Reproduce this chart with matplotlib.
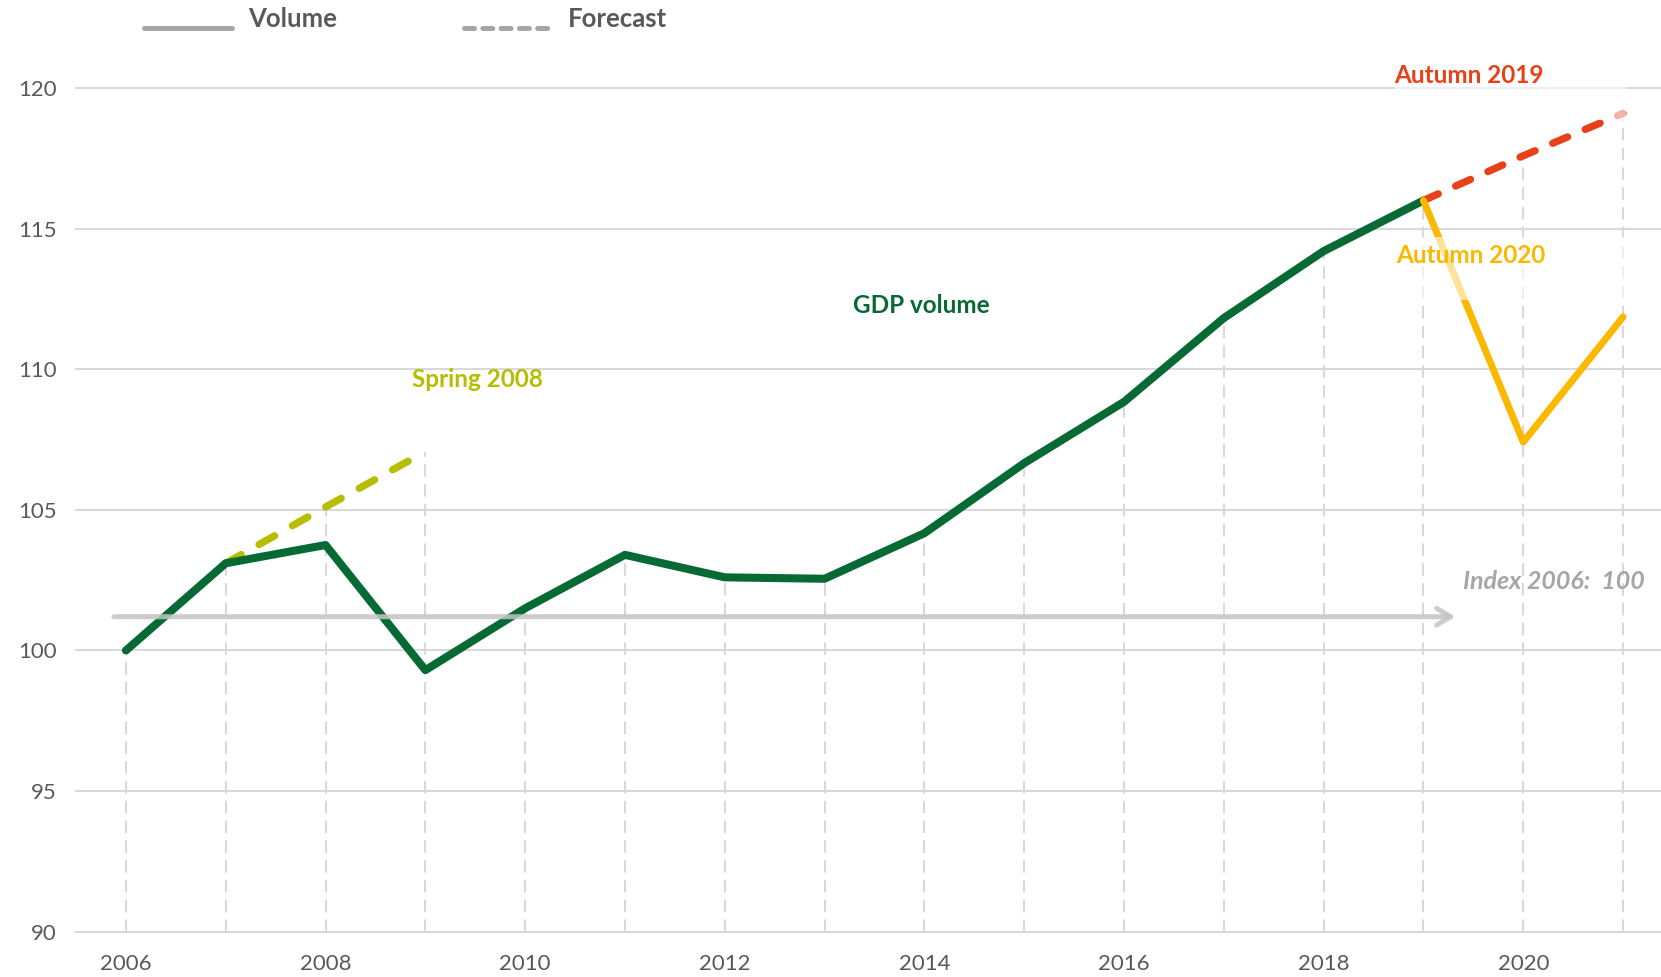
import numpy as np
import matplotlib
matplotlib.use("Agg")
import matplotlib.pyplot as plt
from matplotlib.lines import Line2D
from matplotlib.legend_handler import HandlerLine2D
from matplotlib.patches import Rectangle

plt.rcParams['font.family'] = ['Liberation Sans Narrow', 'Lato', 'DejaVu Sans']

# GDP volume index (2006 = 100)
years = list(range(2006, 2020))
gdp_volume = [100.0, 103.1, 103.75, 99.3, 101.5, 103.4, 102.6, 102.55,
              104.17, 106.66, 108.84, 111.82, 114.2, 116.0]

# Forecast vintages
spring_2008_years = [2007, 2008, 2009]
spring_2008 = [103.1, 105.1, 107.07]
autumn_2019_years = [2019, 2020, 2021]
autumn_2019 = [116.0, 117.59, 119.1]
autumn_2020_years = [2019, 2020, 2021]
autumn_2020 = [116.0, 107.41, 111.86]

x_ticks = [2006, 2008, 2010, 2012, 2014, 2016, 2018, 2020]
y_ticks = [90, 95, 100, 105, 110, 115, 120]

# Index reference arrow
index_arrow_level = 101.2
index_arrow_from = 2005.88
index_arrow_to = 2019.32

GREEN = '#076a34'
OLIVE = '#b7bd00'
RED = '#e8411a'
AMBER = '#fbb800'
GRID = '#d9d9d9'
TEXT = '#595959'
LEGEND_GREY = '#a6a6a6'

LABEL_SIZE = 17.5
TICK_SIZE = 16

fig = plt.figure(figsize=(16.61, 9.77), dpi=100)
W, H = 1661, 977
ax = fig.add_axes([76 / W, 1 - 931.7 / H, 1 - 76 / W, (931.7 - 88) / H])
ax.set_xlim(2005.5, 2021.38)
ax.set_ylim(90, 120)

for s in ax.spines.values():
    s.set_visible(False)

# horizontal grid
for y in y_ticks:
    ax.axhline(y, color=GRID, lw=1.5, zorder=0.5, clip_on=False)

# dashed drop lines from the highest value of each year
top_by_year = {}
for xs, ys in [(years, gdp_volume), (spring_2008_years, spring_2008),
               (autumn_2019_years, autumn_2019), (autumn_2020_years, autumn_2020)]:
    for x, y in zip(xs, ys):
        top_by_year[x] = max(top_by_year.get(x, -np.inf), y)
drop_x = sorted(top_by_year)
ax.vlines(drop_x, 90, [top_by_year[x] for x in drop_x], colors=GRID,
          lw=1.5, linestyles=(0, (6, 3.5)), zorder=0.6)

# series
ax.plot(years, gdp_volume, color=GREEN, lw=5.8, solid_capstyle='round',
        solid_joinstyle='round', zorder=3)
ax.plot(spring_2008_years, spring_2008, color=OLIVE, lw=5.3,
        ls=(0, (2.4, 2.8)), dash_capstyle='round', zorder=2.5)
ax.plot(autumn_2019_years, autumn_2019, color=RED, lw=5.3,
        ls=(0, (2.2, 2.6)), dash_capstyle='round', zorder=3.2)
ax.plot(autumn_2020_years, autumn_2020, color=AMBER, lw=5.0,
        solid_capstyle='round', solid_joinstyle='round', zorder=3.4)

# index arrow
ax.annotate('', xy=(index_arrow_to, index_arrow_level),
            xytext=(index_arrow_from, index_arrow_level),
            arrowprops=dict(arrowstyle='->,head_length=1.0,head_width=0.6',
                            color='#c4c4c4', lw=3.6, alpha=0.85,
                            shrinkA=0, shrinkB=0),
            zorder=4)
ax.text(2021.22, 102.47, 'Index 2006:  100', ha='right', va='center',
        fontsize=18, fontweight='bold', fontstyle='italic', color=LEGEND_GREY)

# series labels
ax.text(2009.52, 109.62, 'Spring 2008', ha='center', va='center',
        fontsize=LABEL_SIZE, fontweight='bold', color=OLIVE)
ax.text(2013.97, 112.28, 'GDP volume', ha='center', va='center',
        fontsize=LABEL_SIZE, fontweight='bold', color=GREEN)
ax.add_patch(Rectangle((2018.71, 118.85), 2.32, 2.5, fc='white', ec='none',
                       alpha=0.6, zorder=5, clip_on=False))
ax.text(2019.46, 120.43, 'Autumn 2019', ha='center', va='center',
        fontsize=LABEL_SIZE, fontweight='bold', color=RED, zorder=6)
ax.add_patch(Rectangle((2018.67, 112.45), 2.4, 2.25, fc='white', ec='none',
                       alpha=0.6, zorder=5))
ax.text(2019.47, 114.03, 'Autumn 2020', ha='center', va='center',
        fontsize=LABEL_SIZE, fontweight='bold', color=AMBER, zorder=6)

# axes ticks
ax.set_xticks(x_ticks)
ax.set_xticklabels([str(x) for x in x_ticks])
ax.set_yticks(y_ticks)
ax.set_yticklabels([str(y) for y in y_ticks])
ax.tick_params(axis='both', length=0, labelsize=TICK_SIZE, labelcolor=TEXT)
ax.tick_params(axis='x', pad=16)
ax.tick_params(axis='y', pad=14)


class LoweredLine(HandlerLine2D):
    """Legend line drawn slightly below the centre of its label."""
    def create_artists(self, legend, orig_handle, xdescent, ydescent,
                       width, height, fontsize, trans):
        arts = super().create_artists(legend, orig_handle, xdescent, ydescent,
                                      width, height, fontsize, trans)
        for a in arts:
            a.set_ydata(np.asarray(a.get_ydata(), dtype=float) - 0.38 * fontsize)
        return arts


legend_handles = [
    Line2D([], [], color=LEGEND_GREY, lw=3.6, solid_capstyle='round'),
    Line2D([], [], color=LEGEND_GREY, lw=3.6, ls=(0, (2.0, 1.66)),
           dash_capstyle='round'),
]
fig.legend(legend_handles, ['Volume', 'Forecast'], loc='upper left',
           bbox_to_anchor=(144 / W, 0.993), ncol=2, frameon=False,
           handlelength=3.42, handletextpad=0.62, columnspacing=4.94,
           borderpad=0, borderaxespad=0,
           prop=dict(weight='bold', size=18.5), labelcolor=TEXT,
           handler_map={Line2D: LoweredLine()})

fig.savefig('out.png', dpi=100, facecolor='white')
